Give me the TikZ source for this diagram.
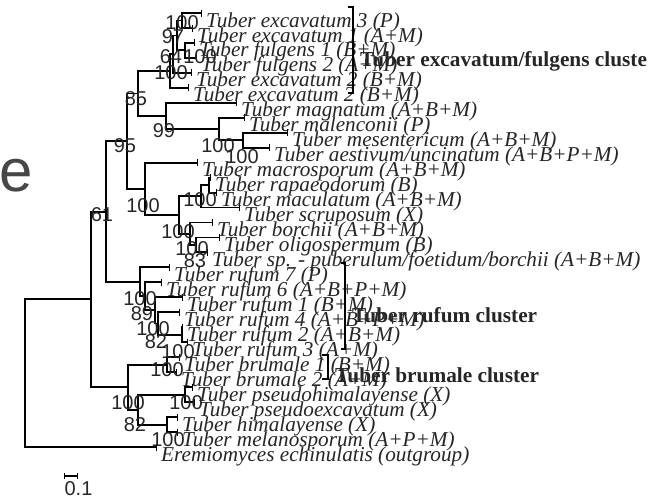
\documentclass[tikz,border=0pt]{standalone}
\usepackage{fontspec}
\setmainfont{Liberation Serif}
\setsansfont{Liberation Sans}
\usetikzlibrary{arrows.meta}
\definecolor{txt}{HTML}{262626}
\newcommand\cladeV[3]{\draw[edge] (#1 |- #2) -- (#1 |- #3);}
\newcommand\toTip[2]{\draw[tipedge] (#1 |- #2) -- (#2);}
\newcommand\toNode[2]{\draw[edge] (#1 |- #2) -- (#2);}
\begin{document}
\begin{tikzpicture}[x=1pt,y=-1pt,
  edge/.style={line width=1.9pt, line cap=rect},
  tipedge/.style={line width=1.9pt, -{Bar[width=7pt,line width=1.3pt]}},
  bracket/.style={line width=1.9pt},
  tl/.style={font=\itshape\fontsize{21.2}{21.2}\selectfont, text=txt, inner sep=0, anchor=base west, xshift=4pt, yshift=-14pt},
  bs/.style={font=\sffamily\fontsize{20}{20}\selectfont, text=txt, inner sep=0, anchor=center},
  cl/.style={font=\bfseries\fontsize{21.3}{21.3}\selectfont, text=txt, inner sep=0, anchor=base west}]
\fill[white] (0,0) rectangle (666,499);
\useasboundingbox (0,0) rectangle (666,499);
% tips
\coordinate (t1) at (202,13.0);
\coordinate (t2) at (193,28.0);
\coordinate (t3) at (195,42.9);
\coordinate (t4) at (197,57.9);
\coordinate (t5) at (192,72.9);
\coordinate (t6) at (189,87.8);
\coordinate (t7) at (237,102.8);
\coordinate (t8) at (245,117.8);
\coordinate (t9) at (288,132.7);
\coordinate (t10) at (270,147.7);
\coordinate (t11) at (198,162.7);
\coordinate (t12) at (211,177.6);
\coordinate (t13) at (217,192.6);
\coordinate (t14) at (240,207.5);
\coordinate (t15) at (213,222.5);
\coordinate (t16) at (220,237.5);
\coordinate (t17) at (208,252.4);
\coordinate (t18) at (170,267.4);
\coordinate (t19) at (162,282.4);
\coordinate (t20) at (183,297.3);
\coordinate (t21) at (180,312.3);
\coordinate (t22) at (183,327.3);
\coordinate (t23) at (188,342.2);
\coordinate (t24) at (180,357.2);
\coordinate (t25) at (177,372.2);
\coordinate (t26) at (193,387.2);
\coordinate (t27) at (195,402.1);
\coordinate (t28) at (178,417.1);
\coordinate (t29) at (178,432.1);
\coordinate (t30) at (157,447.0);
% internal nodes
\coordinate (a12) at (182,20.5);
\coordinate (a34) at (185,50.4);
\coordinate (a97) at (177,35.5);
\coordinate (a64) at (173,54.2);
\coordinate (aA) at (170,71.0);
\coordinate (b910) at (243,140.2);
\coordinate (b8) at (219,129.0);
\coordinate (b99) at (166,115.9);
\coordinate (n85) at (138,93.5);
\coordinate (c1213) at (209,185.1);
\coordinate (c201) at (201,196.3);
\coordinate (cY) at (196,245.0);
\coordinate (cX) at (190,233.7);
\coordinate (c179) at (179,215.0);
\coordinate (c145) at (145,188.9);
\coordinate (n95) at (127,141.2);
\coordinate (r5) at (182,334.8);
\coordinate (r4) at (158,323.5);
\coordinate (r3) at (155,310.4);
\coordinate (r2) at (145,296.4);
\coordinate (r1) at (140,281.9);
\coordinate (n61) at (106,211.6);
\coordinate (bru) at (167,364.7);
\coordinate (h185) at (185,394.7);
\coordinate (h167) at (167,424.6);
\coordinate (h138) at (138,409.6);
\coordinate (h128) at (128,387.2);
\coordinate (n91) at (91,299.4);
\coordinate (root) at (25,373.2);
% edges
\cladeV{a12}{t1}{t2} \toTip{a12}{t1} \toTip{a12}{t2}
\cladeV{a34}{t3}{t4} \toTip{a34}{t3} \toTip{a34}{t4}
\cladeV{a97}{a12}{a34} \toNode{a97}{a12} \toNode{a97}{a34}
\cladeV{a64}{a97}{t5} \toNode{a64}{a97} \toTip{a64}{t5}
\cladeV{aA}{a64}{t6} \toNode{aA}{a64} \toTip{aA}{t6}
\cladeV{b910}{t9}{t10} \toTip{b910}{t9} \toTip{b910}{t10}
\cladeV{b8}{t8}{b910} \toTip{b8}{t8} \toNode{b8}{b910}
\cladeV{b99}{t7}{b8} \toTip{b99}{t7} \toNode{b99}{b8}
\cladeV{n85}{aA}{b99} \toNode{n85}{aA} \toNode{n85}{b99}
\cladeV{c1213}{t12}{t13} \toTip{c1213}{t12} \toTip{c1213}{t13}
\cladeV{c201}{c1213}{t14} \toNode{c201}{c1213} \toTip{c201}{t14}
\cladeV{cY}{t16}{t17} \toTip{cY}{t16} \toTip{cY}{t17}
\cladeV{cX}{t15}{cY} \toTip{cX}{t15} \toNode{cX}{cY}
\cladeV{c179}{c201}{cX} \toNode{c179}{c201} \toNode{c179}{cX}
\cladeV{c145}{t11}{c179} \toTip{c145}{t11} \toNode{c145}{c179}
\cladeV{n95}{n85}{c145} \toNode{n95}{n85} \toNode{n95}{c145}
\cladeV{r5}{t22}{t23} \toTip{r5}{t22} \toTip{r5}{t23}
\cladeV{r4}{t21}{r5} \toTip{r4}{t21} \toNode{r4}{r5}
\cladeV{r3}{t20}{r4} \toTip{r3}{t20} \toNode{r3}{r4}
\cladeV{r2}{t19}{r3} \toTip{r2}{t19} \toNode{r2}{r3}
\cladeV{r1}{t18}{r2} \toTip{r1}{t18} \toNode{r1}{r2}
\cladeV{n61}{n95}{r1} \toNode{n61}{n95} \toNode{n61}{r1}
\cladeV{bru}{t24}{t25} \toTip{bru}{t24} \toTip{bru}{t25}
\cladeV{h185}{t26}{t27} \toTip{h185}{t26} \toTip{h185}{t27}
\cladeV{h167}{t28}{t29} \toTip{h167}{t28} \toTip{h167}{t29}
\cladeV{h138}{h185}{h167} \toNode{h138}{h185} \toNode{h138}{h167}
\cladeV{h128}{bru}{h138} \toNode{h128}{bru} \toNode{h128}{h138}
\cladeV{n91}{n61}{h128} \toNode{n91}{n61} \toNode{n91}{h128}
\cladeV{root}{n91}{t30} \toNode{root}{n91} \toTip{root}{t30}
% tip labels
\node[tl] (L1) at (t1) {Tuber excavatum 3 (P)};
\node[tl] (L2) at (t2) {Tuber excavatum 1 (A+M)};
\node[tl] (L3) at (t3) {Tuber fulgens 1 (B+M)};
\node[tl] (L4) at (t4) {Tuber fulgens 2 (A+M)};
\node[tl] (L5) at (t5) {Tuber excavatum 2 (B+M)};
\node[tl] (L6) at (t6) {Tuber excavatum 2 (B+M)};
\node[tl] (L7) at (t7) {Tuber magnatum (A+B+M)};
\node[tl] (L8) at (t8) {Tuber malenconii (P)};
\node[tl] (L9) at (t9) {Tuber mesentericum (A+B+M)};
\node[tl] (L10) at (t10) {Tuber aestivum/uncinatum (A+B+P+M)};
\node[tl] (L11) at (t11) {Tuber macrosporum (A+B+M)};
\node[tl] (L12) at (t12) {Tuber rapaeodorum (B)};
\node[tl] (L13) at (t13) {Tuber maculatum (A+B+M)};
\node[tl] (L14) at (t14) {Tuber scruposum (X)};
\node[tl] (L15) at (t15) {Tuber borchii (A+B+M)};
\node[tl] (L16) at (t16) {Tuber oligospermum (B)};
\node[tl] (L17) at (t17) {Tuber sp. - puberulum/foetidum/borchii (A+B+M)};
\node[tl] (L18) at (t18) {Tuber rufum 7 (P)};
\node[tl] (L19) at (t19) {Tuber rufum 6 (A+B+P+M)};
\node[tl] (L20) at (t20) {Tuber rufum 1 (B+M)};
\node[tl] (L21) at (t21) {Tuber rufum 4 (A+B+P+M)};
\node[tl] (L22) at (t22) {Tuber rufum 2 (A+B+M)};
\node[tl] (L23) at (t23) {Tuber rufum 3 (A+M)};
\node[tl] (L24) at (t24) {Tuber brumale 1 (B+M)};
\node[tl] (L25) at (t25) {Tuber brumale 2 (A+M)};
\node[tl] (L26) at (t26) {Tuber pseudohimalayense (X)};
\node[tl] (L27) at (t27) {Tuber pseudoexcavatum (X)};
\node[tl] (L28) at (t28) {Tuber himalayense (X)};
\node[tl] (L29) at (t29) {Tuber melanosporum (A+P+M)};
\node[tl] (L30) at (t30) {Eremiomyces echinulatis (outgroup)};
% bootstrap labels
\node[bs] (b1) at (182,23) {100};
\node[bs] (b2) at (173,37) {97};
\node[bs] (b3) at (171,57) {64};
\node[bs] (b4) at (200,57) {100};
\node[bs] (b5) at (171,73) {100};
\node[bs] (b6) at (136,99) {85};
\node[bs] (b7) at (164,131) {99};
\node[bs] (b8) at (125,146) {95};
\node[bs] (b9) at (218,146) {100};
\node[bs] (b10) at (242,157) {100};
\node[bs] (b11) at (143,206) {100};
\node[bs] (b12) at (200,200) {100};
\node[bs] (b13) at (102,215) {61};
\node[bs] (b14) at (178,232) {100};
\node[bs] (b15) at (192,249) {100};
\node[bs] (b16) at (195,261) {83};
\node[bs] (b17) at (140,299) {100};
\node[bs] (b18) at (142,314) {89};
\node[bs] (b19) at (153,329) {100};
\node[bs] (b20) at (156,342) {82};
\node[bs] (b21) at (178,352) {100};
\node[bs] (b22) at (167,370) {100};
\node[bs] (b23) at (128,403) {100};
\node[bs] (b24) at (186,403) {100};
\node[bs] (b25) at (135,425) {82};
\node[bs] (b26) at (168,440) {100};
% cluster brackets
\coordinate (e1) at (348,7); \coordinate (e2) at (353,7);
\coordinate (e3) at (353,93); \coordinate (e4) at (348,93);
\draw[bracket] (e1) -- (e2) -- (e3) -- (e4);
\node[cl] (E) at (360,66) {Tuber excavatum/fulgens cluste};
\coordinate (f1) at (341,263); \coordinate (f2) at (345,263);
\coordinate (f3) at (345,349); \coordinate (f4) at (341,349);
\draw[bracket] (f1) -- (f2) -- (f3) -- (f4);
\node[cl] (F) at (352,322) {Tuber rufum cluster};
\coordinate (g1) at (322,355); \coordinate (g2) at (328,355);
\coordinate (g3) at (328,379); \coordinate (g4) at (322,379);
\draw[bracket] (g1) -- (g2) -- (g3) -- (g4);
\node[cl] (G) at (335,382) {Tuber brumale cluster};
% stray large letter
\node[font=\sffamily\fontsize{60}{60}\selectfont, text=txt!85!white, inner sep=0, anchor=base west] (bige) at (-1,191) {e};
% scale bar
\coordinate (s1) at (64,476); \coordinate (s2) at (78,476);
\draw[line width=1.6pt, {Bar[width=6pt,line width=1.2pt]}-{Bar[width=6pt,line width=1.2pt]}] (s1) -- (s2);
\node[bs] (sl) at (78.5,489) {0.1};
\end{tikzpicture}
\end{document}
